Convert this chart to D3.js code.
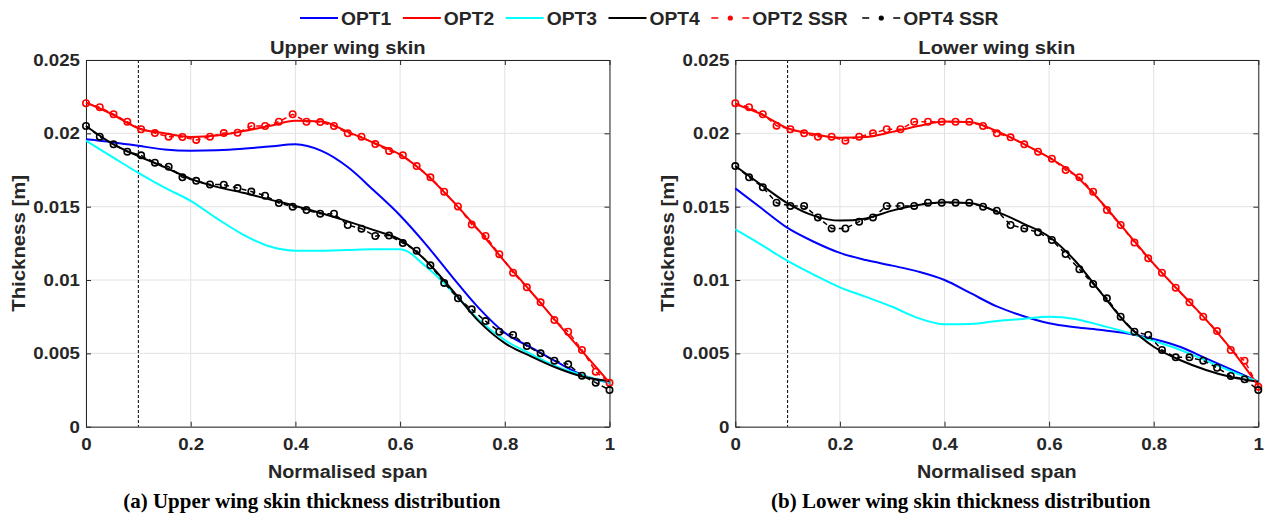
<!DOCTYPE html>
<html>
<head>
<meta charset="utf-8">
<script src="https://cdn.jsdelivr.net/npm/d3@7"></script>
<style>
  body { margin: 0; background: #fff; }
  text { font-family: "Liberation Sans", Arial, sans-serif; font-weight: bold; fill: #262626; }
  .caption { font-family: "Liberation Serif", "Times New Roman", serif; fill: #000; }
</style>
</head>
<body>
<svg id="chart" width="1266" height="515"></svg>
<script>
// span positions of the optimised distributions and of the SSR samples
const lineSpan = [0, 0.05, 0.1, 0.15, 0.2, 0.25, 0.3, 0.35, 0.4, 0.45, 0.5, 0.55, 0.6, 0.65, 0.7, 0.75, 0.8, 0.85, 0.9, 0.95, 1];
const ssrSpan = [0, 0.0263, 0.0526, 0.0789, 0.1053, 0.1316, 0.1579, 0.1842, 0.2105, 0.2368, 0.2632, 0.2895, 0.3158,
  0.3421, 0.3684, 0.3947, 0.4211, 0.4474, 0.4737, 0.5, 0.5263, 0.5526, 0.5789, 0.6053, 0.6316, 0.6579, 0.6842,
  0.7105, 0.7368, 0.7632, 0.7895, 0.8158, 0.8421, 0.8684, 0.8947, 0.9211, 0.9474, 0.9737, 1];

// upper wing skin thickness [m]
const upperOpt1 = [0.0196, 0.0194, 0.01915, 0.0189, 0.01882, 0.01885, 0.01895, 0.0191, 0.01925, 0.0188, 0.0177,
  0.0161, 0.0144, 0.0124, 0.0102, 0.0081, 0.0064, 0.0054, 0.0044, 0.0035, 0.0030];
const upperOpt2 = [0.0221, 0.0213, 0.02035, 0.0200, 0.01975, 0.01985, 0.02015, 0.0205, 0.02085, 0.0208, 0.0201,
  0.01935, 0.01855, 0.0172, 0.0154, 0.0134, 0.01125, 0.0092, 0.0071, 0.00505, 0.0030];
const upperOpt3 = [0.0195, 0.0184, 0.0173, 0.0163, 0.0154, 0.0142, 0.0131, 0.0123, 0.0120, 0.0120, 0.01205,
  0.0121, 0.0121, 0.0109, 0.0092, 0.0073, 0.0059, 0.00495, 0.0041, 0.0035, 0.0030];
const upperOpt4 = [0.0205, 0.0193, 0.01845, 0.0177, 0.0169, 0.01635, 0.01595, 0.0155, 0.01505, 0.01455, 0.0140,
  0.0134, 0.01275, 0.0113, 0.0093, 0.0072, 0.0057, 0.0048, 0.0040, 0.0034, 0.0031];
const upperSsr2 = [0.02205, 0.02178, 0.0213, 0.02079, 0.02028, 0.02002, 0.01977, 0.01975, 0.01955, 0.01977, 0.02002,
  0.02004, 0.0205, 0.0205, 0.02079, 0.0213, 0.02079, 0.02077, 0.0205, 0.0200, 0.01977, 0.01927, 0.0188, 0.0185,
  0.01777, 0.0170, 0.01602, 0.01502, 0.01378, 0.0130, 0.01176, 0.0105, 0.0095, 0.00848, 0.00727, 0.00648,
  0.00523, 0.00375, 0.0030];
const upperSsr4 = [0.0205, 0.01977, 0.01925, 0.01875, 0.0185, 0.0180, 0.01773, 0.0170, 0.01676, 0.01652, 0.0165,
  0.01627, 0.01603, 0.01575, 0.01525, 0.0150, 0.01477, 0.01452, 0.01452, 0.01375, 0.0135, 0.0130, 0.01303,
  0.01252, 0.0120, 0.0110, 0.0098, 0.00875, 0.0080, 0.0072, 0.00648, 0.00625, 0.0055, 0.0050, 0.0045, 0.00425,
  0.00348, 0.0030, 0.0025];

// lower wing skin thickness [m]
const lowerOpt1 = [0.01625, 0.01489, 0.01355, 0.01261, 0.01185, 0.01136, 0.01098, 0.01057, 0.0100, 0.0091, 0.0082,
  0.00755, 0.00705, 0.00678, 0.00659, 0.00636, 0.00598, 0.00545, 0.00466, 0.00387, 0.00307];
const lowerOpt2 = [0.0220, 0.0213, 0.02035, 0.01995, 0.0197, 0.01975, 0.0201, 0.0205, 0.0208, 0.02075, 0.02015,
  0.0193, 0.01835, 0.01715, 0.0153, 0.0132, 0.0111, 0.0092, 0.0073, 0.0052, 0.0028];
const lowerOpt3 = [0.01345, 0.0124, 0.0113, 0.01036, 0.0095, 0.00885, 0.00818, 0.0074, 0.00698, 0.0070, 0.0072,
  0.00735, 0.0075, 0.00735, 0.0069, 0.00642, 0.00585, 0.00525, 0.0045, 0.00375, 0.00307];
const lowerOpt4 = [0.01777, 0.01648, 0.01523, 0.01439, 0.01405, 0.0142, 0.01473, 0.01511, 0.0153, 0.01523, 0.01466,
  0.01386, 0.01295, 0.0113, 0.00909, 0.00693, 0.00545, 0.00455, 0.00387, 0.00337, 0.00307];
const lowerSsr2 = [0.02205, 0.02178, 0.0213, 0.02052, 0.02028, 0.0200, 0.01977, 0.01977, 0.0195, 0.01977, 0.0200,
  0.02028, 0.02028, 0.02079, 0.02079, 0.02079, 0.02079, 0.02079, 0.0205, 0.0200, 0.01973, 0.01925, 0.01875,
  0.01827, 0.0175, 0.0170, 0.01602, 0.01477, 0.01375, 0.01255, 0.01148, 0.0105, 0.00948, 0.00848, 0.0075,
  0.00652, 0.00523, 0.0045, 0.00273];
const lowerSsr4 = [0.01777, 0.0170, 0.01632, 0.01527, 0.01505, 0.01505, 0.01427, 0.01352, 0.01352, 0.01398, 0.01427,
  0.01505, 0.01505, 0.01505, 0.01527, 0.01527, 0.01527, 0.01527, 0.0150, 0.01473, 0.01375, 0.01352, 0.01325,
  0.01273, 0.01177, 0.01073, 0.00973, 0.00875, 0.0075, 0.00648, 0.00625, 0.00523, 0.00473, 0.00473, 0.0045,
  0.00402, 0.00346, 0.00323, 0.0025];

const xTicks = [0, 0.2, 0.4, 0.6, 0.8, 1];
const xTickLabels = ["0", "0.2", "0.4", "0.6", "0.8", "1"];
const yTicks = [0, 0.005, 0.01, 0.015, 0.02, 0.025];
const yTickLabels = ["0", "0.005", "0.01", "0.015", "0.02", "0.025"];
const seriesNames = ["OPT1", "OPT2", "OPT3", "OPT4", "OPT2 SSR", "OPT4 SSR"];
const seriesColors = ["#0000ff", "#ff0000", "#00ffff", "#000000", "#ff0000", "#000000"];
const designSpan = 0.1;

const svg = d3.select("#chart");
const plotTop = 60, plotBottom = 426.7;
const axisColor = "#262626";

// the reference fonts are a little wider than Liberation Sans
function stretch(sel, k) {
  sel.each(function () {
    const len = this.getComputedTextLength();
    d3.select(this).attr("textLength", len * k).attr("lengthAdjust", "spacingAndGlyphs");
  });
}

function styleAxis(g) {
  g.select(".domain").attr("stroke", axisColor).attr("stroke-width", 1);
  g.selectAll(".tick line").attr("stroke", axisColor);
  g.selectAll(".tick text")
    .attr("font-size", 17)
    .attr("font-family", null)
    .attr("fill", axisColor)
    .call(stretch, 1.1);
}

function drawPanel(p) {
  const x = d3.scaleLinear([0, 1], [p.left, p.right]);
  const y = d3.scaleLinear([0, 0.025], [plotBottom, plotTop]);
  const g = svg.append("g");

  //Grid
  g.append("g").selectAll("line").data(xTicks).join("line")
    .attr("x1", (d) => x(d)).attr("x2", (d) => x(d))
    .attr("y1", plotTop).attr("y2", plotBottom)
    .attr("stroke", "#e2e2e2");
  g.append("g").selectAll("line").data(yTicks).join("line")
    .attr("x1", p.left).attr("x2", p.right)
    .attr("y1", (d) => y(d)).attr("y2", (d) => y(d))
    .attr("stroke", "#e2e2e2");

  //Design span marker
  g.append("line")
    .attr("x1", x(designSpan)).attr("x2", x(designSpan))
    .attr("y1", plotTop).attr("y2", plotBottom)
    .attr("stroke", "#000").attr("stroke-width", 1).attr("stroke-dasharray", "3,2");

  //Axes (ticks inward, box on)
  g.append("g").attr("transform", `translate(0,${plotBottom})`)
    .call(d3.axisBottom(x).tickValues(xTicks).tickFormat((d, i) => xTickLabels[i])
      .tickSizeInner(-5).tickSizeOuter(0).tickPadding(11))
    .call(styleAxis);
  g.append("g").attr("transform", `translate(${p.left},0)`)
    .call(d3.axisLeft(y).tickValues(yTicks).tickFormat((d, i) => yTickLabels[i])
      .tickSizeInner(-5).tickSizeOuter(0).tickPadding(6))
    .call(styleAxis);
  g.append("g").attr("transform", `translate(0,${plotTop})`)
    .call(d3.axisTop(x).tickValues(xTicks).tickFormat("").tickSizeInner(-5).tickSizeOuter(0))
    .call(styleAxis);
  g.append("g").attr("transform", `translate(${p.right},0)`)
    .call(d3.axisRight(y).tickValues(yTicks).tickFormat("").tickSizeInner(-5).tickSizeOuter(0))
    .call(styleAxis);

  //Optimised distributions
  const smooth = d3.line()
    .x((d, i) => x(lineSpan[i]))
    .y((d) => y(d))
    .curve(d3.curveMonotoneX);
  p.opt.forEach((vals, k) => {
    g.append("path").datum(vals)
      .attr("d", smooth)
      .attr("fill", "none")
      .attr("stroke", seriesColors[k])
      .attr("stroke-width", 2);
  });

  //SSR samples
  const straight = d3.line()
    .x((d, i) => x(ssrSpan[i]))
    .y((d) => y(d));
  p.ssr.forEach((vals, k) => {
    const color = seriesColors[4 + k];
    g.append("path").datum(vals)
      .attr("d", straight)
      .attr("fill", "none")
      .attr("stroke", color)
      .attr("stroke-width", 1.5)
      .attr("stroke-dasharray", "5,4");
    g.append("g").selectAll("circle").data(vals).join("circle")
      .attr("cx", (d, i) => x(ssrSpan[i]))
      .attr("cy", (d) => y(d))
      .attr("r", 3.2)
      .attr("fill", "none")
      .attr("stroke", color)
      .attr("stroke-width", 1.6);
  });

  //Labels
  const mid = (p.left + p.right) / 2;
  g.append("text").attr("x", mid).attr("y", 54)
    .attr("text-anchor", "middle").attr("font-size", 18).attr("fill", "#000")
    .text(p.title).call(stretch, 1.12);
  g.append("text").attr("x", mid).attr("y", 478)
    .attr("text-anchor", "middle").attr("font-size", 18)
    .text("Normalised span").call(stretch, 1.1);
  g.append("text")
    .attr("transform", `translate(${p.left - 61},${(plotTop + plotBottom) / 2}) rotate(-90)`)
    .attr("text-anchor", "middle").attr("font-size", 18)
    .text("Thickness [m]").call(stretch, 1.13);
  g.append("text").classed("caption", true)
    .attr("x", mid - 36).attr("y", 508)
    .attr("text-anchor", "middle").attr("font-size", 21)
    .text(p.caption);
}

function drawLegend() {
  const g = svg.append("g");
  let x = 300;
  const y = 18;
  seriesNames.forEach((name, k) => {
    const ssr = name.includes("SSR");
    g.append("line")
      .attr("x1", x).attr("x2", x + 38).attr("y1", y).attr("y2", y)
      .attr("stroke", seriesColors[k])
      .attr("stroke-width", ssr ? 1.5 : 2)
      .attr("stroke-dasharray", ssr ? "7,24" : null);
    if (ssr) {
      g.append("circle").attr("cx", x + 19).attr("cy", y).attr("r", 2)
        .attr("fill", seriesColors[k]).attr("stroke", seriesColors[k]).attr("stroke-width", 1.2);
    }
    const t = g.append("text").attr("x", x + 41).attr("y", y + 6.5)
      .attr("font-size", 18).attr("fill", "#000").text(name);
    t.call(stretch, 1.07);
    x += 41 + t.node().getComputedTextLength() * 1.07 + 8;
  });
}

drawLegend();
drawPanel({
  left: 86, right: 609.5,
  title: "Upper wing skin",
  caption: "(a) Upper wing skin thickness distribution",
  opt: [upperOpt1, upperOpt2, upperOpt3, upperOpt4],
  ssr: [upperSsr2, upperSsr4],
});
drawPanel({
  left: 735.3, right: 1258.3,
  title: "Lower wing skin",
  caption: "(b) Lower wing skin thickness distribution",
  opt: [lowerOpt1, lowerOpt2, lowerOpt3, lowerOpt4],
  ssr: [lowerSsr2, lowerSsr4],
});
</script>
</body>
</html>
